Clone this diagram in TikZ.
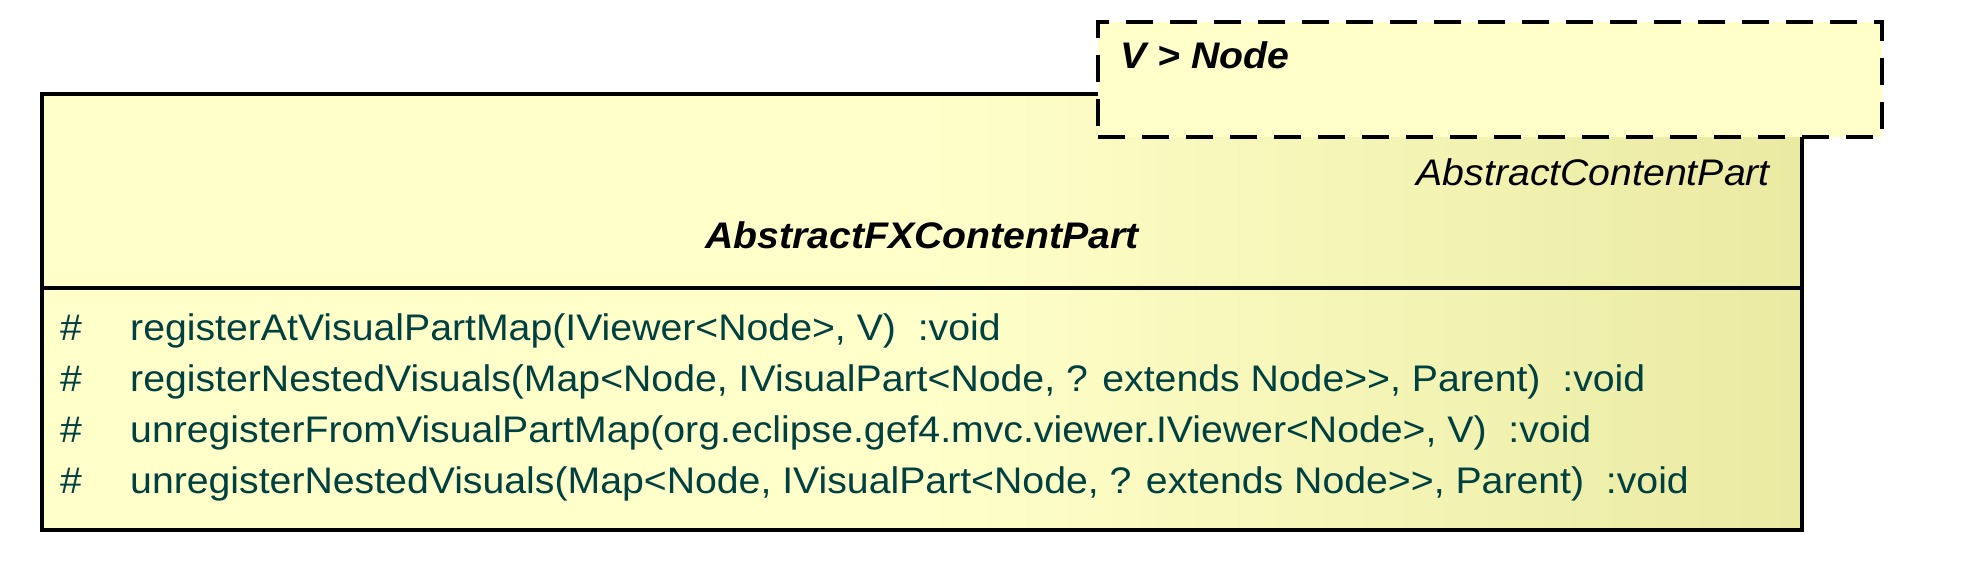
\documentclass[tikz,border=0pt]{standalone}
\usepackage{fontspec}
\setmainfont[FakeStretch=1.06]{Liberation Sans}
\definecolor{lightyel}{RGB}{255,255,202}
\definecolor{darkyel}{RGB}{234,234,163}
\definecolor{methodcol}{RGB}{0,64,64}
\pgfdeclarehorizontalshading{boxshade}{100bp}{color(0bp)=(lightyel); color(50bp)=(lightyel); color(75bp)=(darkyel); color(100bp)=(darkyel)}
\begin{document}
\begin{tikzpicture}[x=1pt,y=-1pt,
  mainbox/.style={draw=black, line width=4pt, shading=boxshade, inner sep=0pt, anchor=north west},
  tmplbox/.style={draw=black, line width=4pt, dash pattern=on 27pt off 17pt, fill=lightyel, inner sep=0pt, anchor=north west},
  txt/.style={inner sep=0pt, font=\fontsize{37}{44}\selectfont},
  meth/.style={txt, text=methodcol, anchor=base west}
]
\useasboundingbox (0,0) rectangle (1984,572);
\node[mainbox, minimum width=1760pt, minimum height=436pt] (main) at (40,92) {};
\draw[line width=4pt] (40,288) coordinate (sepL) -- (1800,288) coordinate (sepR);
\node[tmplbox, minimum width=784pt, minimum height=115pt] (tmpl) at (1096,20) {};
\node[txt, anchor=base west, font=\fontsize{37}{44}\selectfont\bfseries\itshape] (tparam) at (1120,69) {V > Node};
\node[txt, anchor=base east, font=\fontsize{37}{44}\selectfont\itshape] (parent) at (1770,186) {AbstractContentPart};
\node[txt, anchor=base, font=\fontsize{37}{44}\selectfont\bfseries\itshape] (title) at (922,248) {AbstractFXContentPart};
\foreach \i/\t in {0/{registerAtVisualPartMap(IViewer<Node>, V)\ \ :void},
                   1/{registerNestedVisuals(Map<Node, IVisualPart<Node, ? extends Node>{}>, Parent)\ \ :void},
                   2/{unregisterFromVisualPartMap(org.eclipse.gef4.mvc.viewer.IViewer<Node>, V)\ \ :void},
                   3/{unregisterNestedVisuals(Map<Node, IVisualPart<Node, ? extends Node>{}>, Parent)\ \ :void}} {
  \node[meth] (vis\i) at (60,340+51.3*\i) {\#};
  \node[meth] (m\i) at (130,340+51.3*\i) {\t};
}
\end{tikzpicture}
\end{document}
